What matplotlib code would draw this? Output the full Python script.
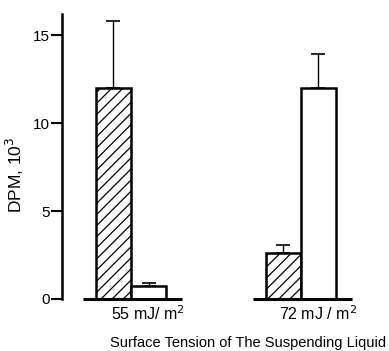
import matplotlib
matplotlib.use("Agg")
import matplotlib.pyplot as plt
import numpy as np

plt.rcParams['font.family'] = ['Liberation Sans', 'DejaVu Sans']
plt.rcParams['hatch.linewidth'] = 0.9

groups = ["55 mJ/ m$^2$", "72 mJ / m$^2$"]
hatched_vals = [12.0, 2.6]
hatched_err = [3.8, 0.45]
open_vals = [0.75, 12.0]
open_err = [0.15, 1.9]
yticks = [0, 5, 10, 15]

fig = plt.figure(figsize=(3.89, 3.51), dpi=100)
ax = fig.add_axes([62/389, 52/351, 327/389, 285/351])

x = np.arange(len(groups))
w = 0.206
ax.bar(x - w/2, hatched_vals, w, facecolor='white', edgecolor='black',
       linewidth=1.8, hatch='///', zorder=2)
ax.bar(x + w/2, open_vals, w, facecolor='white', edgecolor='black',
       linewidth=1.8, zorder=2)
ax.errorbar(x - w/2, hatched_vals, yerr=[np.zeros(2), hatched_err], fmt='none',
            ecolor='black', elinewidth=1.0, capsize=5, capthick=1.2, zorder=1)
ax.errorbar(x + w/2, open_vals, yerr=[np.zeros(2), open_err], fmt='none',
            ecolor='black', elinewidth=1.0, capsize=5, capthick=1.2, zorder=1)

for xi in x:
    ax.plot([xi - 0.285, xi + 0.30], [0, 0], color='black', lw=2.2,
            solid_capstyle='butt', clip_on=False, zorder=3)

ax.set_xlim(-0.406, 1.518)
ax.set_ylim(0, 16.2)
ax.set_yticks(yticks)
ax.set_xticks([])
for xi, g in zip(x, groups):
    ax.text(xi + 0.1, -0.3, g, ha='center', va='top', fontsize=11.5)
ax.text(0.69, -2.12, "Surface Tension of The Suspending Liquid", ha='center',
        va='top', fontsize=10.5)

for s in ['top', 'right', 'bottom']:
    ax.spines[s].set_visible(False)
ax.spines['left'].set_linewidth(1.8)
ax.tick_params(axis='y', length=8, width=1.5, labelsize=11, pad=1)
ax.set_ylabel("DPM, 10$^3$", fontsize=12.5)
ax.yaxis.set_label_coords(-0.110, 0.435)

fig.savefig("out.png", dpi=100)
